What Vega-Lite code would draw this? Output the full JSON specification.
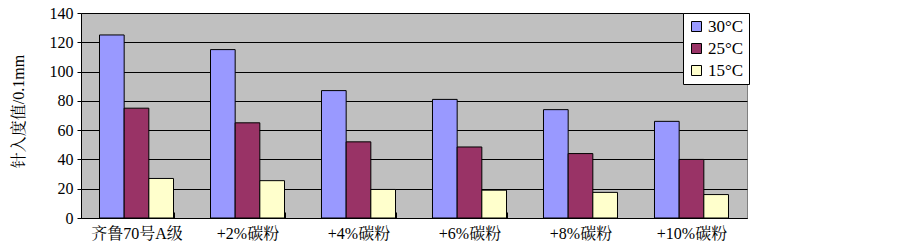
{
  "$schema": "https://vega.github.io/schema/vega-lite/v6.json",
  "autosize": {"type": "none"},
  "width": 666,
  "height": 205,
  "padding": {"left": 81, "top": 13, "right": 156, "bottom": 26},
  "background": "white",
  "config": {
    "font": "Times New Roman, Liberation Serif, Noto Serif CJK SC, Noto Sans CJK SC",
    "view": {"fill": "#C0C0C0", "stroke": "#808080", "strokeWidth": 1}
  },
  "data": {
    "values": [
      {"group": "齐鲁70号A级", "temp": "30°C", "v": 125},
      {"group": "齐鲁70号A级", "temp": "25°C", "v": 75},
      {"group": "齐鲁70号A级", "temp": "15°C", "v": 27},
      {"group": "+2%碳粉", "temp": "30°C", "v": 115},
      {"group": "+2%碳粉", "temp": "25°C", "v": 65},
      {"group": "+2%碳粉", "temp": "15°C", "v": 25.5},
      {"group": "+4%碳粉", "temp": "30°C", "v": 87},
      {"group": "+4%碳粉", "temp": "25°C", "v": 52},
      {"group": "+4%碳粉", "temp": "15°C", "v": 19.5},
      {"group": "+6%碳粉", "temp": "30°C", "v": 81},
      {"group": "+6%碳粉", "temp": "25°C", "v": 48.5},
      {"group": "+6%碳粉", "temp": "15°C", "v": 19},
      {"group": "+8%碳粉", "temp": "30°C", "v": 74},
      {"group": "+8%碳粉", "temp": "25°C", "v": 44},
      {"group": "+8%碳粉", "temp": "15°C", "v": 17.5},
      {"group": "+10%碳粉", "temp": "30°C", "v": 66},
      {"group": "+10%碳粉", "temp": "25°C", "v": 40},
      {"group": "+10%碳粉", "temp": "15°C", "v": 16}
    ]
  },
  "mark": {"type": "bar", "stroke": "black", "strokeWidth": 1},
  "encoding": {
    "x": {
      "field": "group",
      "type": "nominal",
      "sort": null,
      "scale": {"paddingInner": 0.3333, "paddingOuter": 0.1667},
      "axis": {
        "title": null,
        "labelAngle": 0,
        "labelFontSize": 16,
        "labelColor": "black",
        "labelPadding": 13,
        "domainColor": "black",
        "tickColor": "black",
        "tickBand": "extent",
        "tickSize": -6,
        "grid": false
      }
    },
    "xOffset": {
      "field": "temp",
      "type": "nominal",
      "sort": ["30°C", "25°C", "15°C"],
      "scale": {"paddingInner": 0, "paddingOuter": 0}
    },
    "y": {
      "field": "v",
      "type": "quantitative",
      "scale": {"domain": [0, 140], "nice": false},
      "axis": {
        "values": [0, 20, 40, 60, 80, 100, 120, 140],
        "title": "针入度值/0.1mm",
        "titleFontSize": 16,
        "titleFontWeight": "normal",
        "titleColor": "black",
        "titleAngle": -90,
        "titleX": -63,
        "titleY": 98,
        "titleAlign": "center",
        "titleBaseline": "middle",
        "labelFontSize": 16,
        "labelColor": "black",
        "labelPadding": 4,
        "tickSize": 4,
        "tickColor": "black",
        "domainColor": "black",
        "grid": true,
        "gridColor": "black",
        "gridOpacity": 1,
        "gridWidth": 1
      }
    },
    "color": {
      "field": "temp",
      "type": "nominal",
      "sort": ["30°C", "25°C", "15°C"],
      "scale": {"domain": ["30°C", "25°C", "15°C"], "range": ["#9999FF", "#993366", "#FFFFCC"]},
      "legend": {
        "title": null,
        "orient": "none",
        "legendX": 602,
        "legendY": 0,
        "direction": "vertical",
        "fillColor": "white",
        "strokeColor": "black",
        "padding": 5,
        "symbolType": "square",
        "symbolSize": 100,
        "symbolStrokeColor": "black",
        "symbolStrokeWidth": 1,
        "symbolOpacity": 1,
        "labelFontSize": 17,
        "labelColor": "black",
        "labelOffset": 3,
        "rowPadding": 4
      }
    }
  }
}
